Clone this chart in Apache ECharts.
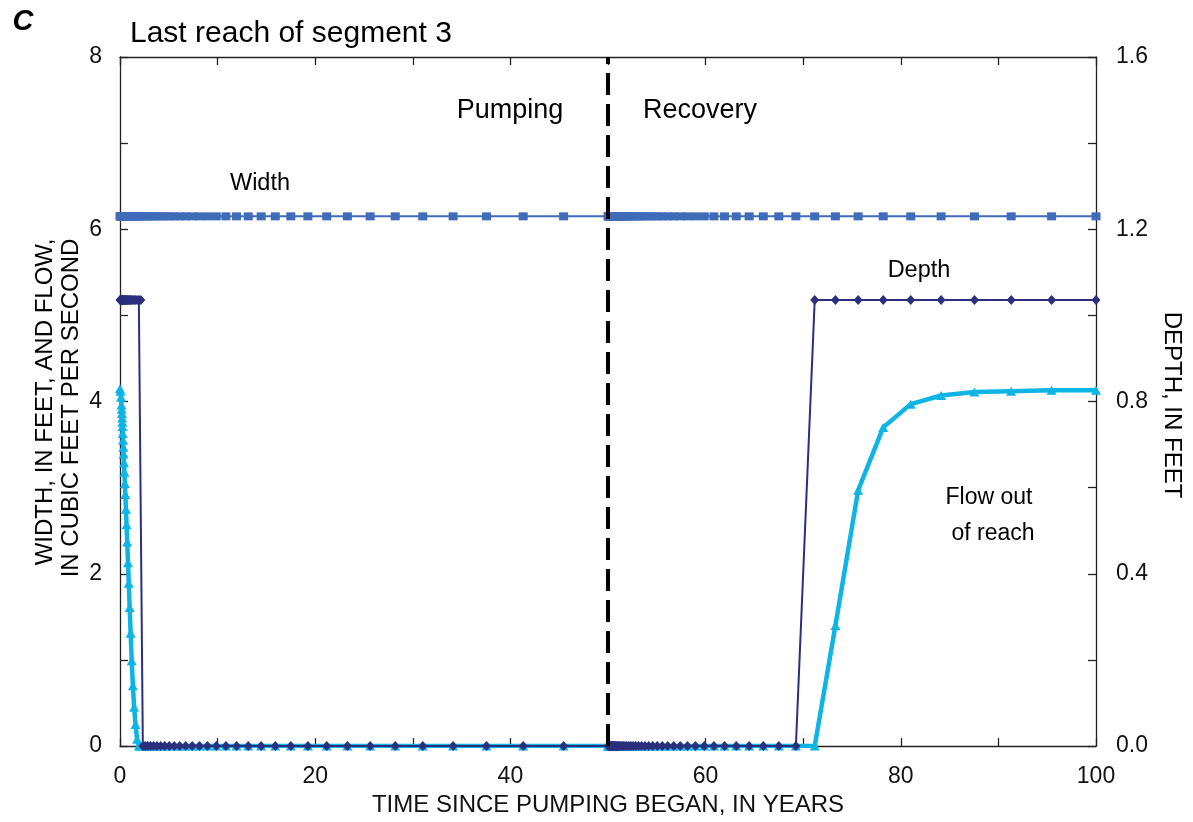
<!DOCTYPE html>
<html>
<head>
<meta charset="utf-8">
<script src="https://cdn.jsdelivr.net/npm/echarts@6/dist/echarts.min.js"></script>
<style>
html,body{margin:0;padding:0;background:#fff;}
#chart{width:1193px;height:822px;}
</style>
</head>
<body>
<div id="chart"></div>
<script>
// Time steps (years) — pumping period
const pumpTimes = [0, 0.05, 0.10, 0.15, 0.17, 0.19, 0.21, 0.23, 0.25, 0.28, 0.31, 0.34, 0.37, 0.41, 0.45, 0.50,
  0.55, 0.61, 0.67, 0.74, 0.82, 0.90, 0.99, 1.09, 1.20, 1.32, 1.45, 1.59, 1.75, 1.93, 2.13, 2.34,
  2.58, 2.84, 3.13, 3.44, 3.79, 4.17, 4.59, 5.05, 5.56, 6.12, 6.73, 7.40, 8.14, 8.96, 9.86, 10.85,
  11.94, 13.14, 14.46, 15.91, 17.50, 19.25, 21.18, 23.30, 25.63, 28.20, 31.02, 34.13, 37.55, 41.31, 45.45, 50.00];
// Time steps (years) — recovery period
const recoveryTimes = [50.05, 50.10, 50.15, 50.17, 50.19, 50.21, 50.23, 50.25, 50.28, 50.31, 50.34, 50.37, 50.41, 50.45, 50.50,
  50.55, 50.61, 50.67, 50.74, 50.82, 50.90, 50.99, 51.09, 51.20, 51.32, 51.45, 51.59, 51.75, 51.93, 52.13, 52.34,
  52.58, 52.84, 53.13, 53.44, 53.79, 54.17, 54.59, 55.05, 55.56, 56.12, 56.73, 57.40, 58.14, 58.96, 59.86, 60.85,
  61.94, 63.14, 64.46, 65.91, 67.50, 69.25, 71.18, 73.30, 75.63, 78.20, 81.02, 84.13, 87.55, 91.31, 95.45, 100.00];

// Width, in feet (left axis)
const widthPump = [6.15, 6.15, 6.15, 6.15, 6.15, 6.15, 6.15, 6.15, 6.15, 6.15, 6.15, 6.15, 6.15, 6.15, 6.15, 6.15,
  6.15, 6.15, 6.15, 6.15, 6.15, 6.15, 6.15, 6.15, 6.15, 6.15, 6.15, 6.15, 6.15, 6.15, 6.15, 6.15,
  6.15, 6.15, 6.15, 6.15, 6.15, 6.15, 6.15, 6.15, 6.15, 6.15, 6.15, 6.15, 6.15, 6.15, 6.15, 6.15,
  6.15, 6.15, 6.15, 6.15, 6.15, 6.15, 6.15, 6.15, 6.15, 6.15, 6.15, 6.15, 6.15, 6.15, 6.15, 6.15];
const widthRecovery = [6.15, 6.15, 6.15, 6.15, 6.15, 6.15, 6.15, 6.15, 6.15, 6.15, 6.15, 6.15, 6.15, 6.15, 6.15,
  6.15, 6.15, 6.15, 6.15, 6.15, 6.15, 6.15, 6.15, 6.15, 6.15, 6.15, 6.15, 6.15, 6.15, 6.15, 6.15,
  6.15, 6.15, 6.15, 6.15, 6.15, 6.15, 6.15, 6.15, 6.15, 6.15, 6.15, 6.15, 6.15, 6.15, 6.15, 6.15,
  6.15, 6.15, 6.15, 6.15, 6.15, 6.15, 6.15, 6.15, 6.15, 6.15, 6.15, 6.15, 6.15, 6.15, 6.15, 6.15];

// Depth, in feet (right axis)
const depthPump = [1.036, 1.036, 1.036, 1.036, 1.036, 1.036, 1.036, 1.036, 1.036, 1.036, 1.036, 1.036, 1.036, 1.036, 1.036, 1.036,
  1.036, 1.036, 1.036, 1.036, 1.036, 1.036, 1.036, 1.036, 1.036, 1.036, 1.036, 1.036, 1.036, 1.036, 1.036, 0,
  0, 0, 0, 0, 0, 0, 0, 0, 0, 0, 0, 0, 0, 0, 0, 0,
  0, 0, 0, 0, 0, 0, 0, 0, 0, 0, 0, 0, 0, 0, 0, 0];
const depthRecovery = [0, 0, 0, 0, 0, 0, 0, 0, 0, 0, 0, 0, 0, 0, 0,
  0, 0, 0, 0, 0, 0, 0, 0, 0, 0, 0, 0, 0, 0, 0, 0,
  0, 0, 0, 0, 0, 0, 0, 0, 0, 0, 0, 0, 0, 0, 0, 0,
  0, 0, 0, 0, 0, 0, 1.036, 1.036, 1.036, 1.036, 1.036, 1.036, 1.036, 1.036, 1.036, 1.036];

// Flow out of reach, cubic feet per second (left axis)
const flowPump = [4.15, 4.12, 4.05, 3.96, 3.91, 3.86, 3.81, 3.76, 3.71, 3.63, 3.55, 3.47, 3.39, 3.29, 3.18, 3.05,
  2.92, 2.75, 2.57, 2.37, 2.13, 1.89, 1.61, 1.31, 0.99, 0.70, 0.45, 0.25, 0.08, 0, 0, 0,
  0, 0, 0, 0, 0, 0, 0, 0, 0, 0, 0, 0, 0, 0, 0, 0,
  0, 0, 0, 0, 0, 0, 0, 0, 0, 0, 0, 0, 0, 0, 0, 0];
const flowRecovery = [0, 0, 0, 0, 0, 0, 0, 0, 0, 0, 0, 0, 0, 0, 0,
  0, 0, 0, 0, 0, 0, 0, 0, 0, 0, 0, 0, 0, 0, 0, 0,
  0, 0, 0, 0, 0, 0, 0, 0, 0, 0, 0, 0, 0, 0, 0, 0,
  0, 0, 0, 0, 0, 0, 0, 1.40, 2.97, 3.70, 3.97, 4.07, 4.11, 4.12, 4.13, 4.13];

const xTickLabels = [0, 20, 40, 60, 80, 100];
const leftTickLabels = [0, 2, 4, 6, 8];
const rightTickLabels = ['0.0', '0.4', '0.8', '1.2', '1.6'];
const periodMarkerYear = 50;

const times = pumpTimes.concat(recoveryTimes);
const pairs = (vals) => times.map((t, i) => [t, vals[i]]);
const widthData = pairs(widthPump.concat(widthRecovery));
const depthData = pairs(depthPump.concat(depthRecovery));
const flowData = pairs(flowPump.concat(flowRecovery));

const FONT = '"Liberation Sans", Arial, Helvetica, sans-serif';
const AX = '#222';
const axisLine = {show: true, onZero: false, lineStyle: {color: AX, width: 1.3}};
const axisTick = {show: true, inside: true, length: 8, lineStyle: {color: AX, width: 1.3}};

const chart = echarts.init(document.getElementById('chart'), null, {renderer: 'canvas'});
const option = {
  backgroundColor: '#fff',
  animation: false,
  textStyle: {fontFamily: FONT},
  grid: {left: 120, right: 97, top: 57, bottom: 72, containLabel: false},
  xAxis: [{
    type: 'value', min: 0, max: 100, interval: 10, position: 'bottom',
    axisLine: axisLine, axisTick: axisTick,
    axisLabel: {fontSize: 23, color: '#111', fontFamily: FONT, margin: 19,
      formatter: v => xTickLabels.indexOf(Math.round(v)) >= 0 ? String(Math.round(v)) : ''},
    splitLine: {show: false},
    name: 'TIME SINCE PUMPING BEGAN, IN YEARS', nameLocation: 'middle', nameGap: 41,
    nameTextStyle: {fontSize: 24, color: '#111', fontFamily: FONT}
  }, {
    type: 'value', min: 0, max: 100, interval: 10, position: 'top',
    axisLine: axisLine, axisTick: axisTick,
    axisLabel: {show: false},
    splitLine: {show: false}
  }],
  yAxis: [{
    type: 'value', min: 0, max: 8, interval: 1, position: 'left',
    axisLine: axisLine, axisTick: axisTick,
    axisLabel: {fontSize: 23, color: '#111', fontFamily: FONT, margin: 18,
      formatter: v => leftTickLabels.indexOf(Math.round(v)) >= 0 ? String(Math.round(v)) : ''},
    splitLine: {show: false}
  }, {
    type: 'value', min: 0, max: 1.6, interval: 0.2, position: 'right',
    axisLine: axisLine, axisTick: axisTick,
    axisLabel: {fontSize: 23, color: '#111', fontFamily: FONT, margin: 20,
      formatter: v => { const s = v.toFixed(1); return rightTickLabels.indexOf(s) >= 0 ? s : ''; }},
    splitLine: {show: false}
  }],
  series: [{
    name: 'Flow out of reach', type: 'line', xAxisIndex: 0, yAxisIndex: 0,
    data: flowData, symbol: 'triangle', symbolSize: [10, 9], showAllSymbol: true,
    lineStyle: {color: '#0db4e4', width: 4.5}, itemStyle: {color: '#0db4e4'},
    markLine: {
      silent: true, symbol: 'none', label: {show: false},
      lineStyle: {color: '#000', width: 4, type: [22, 9]},
      data: [{xAxis: periodMarkerYear}]
    },
    z: 2
  }, {
    name: 'Depth', type: 'line', xAxisIndex: 0, yAxisIndex: 1,
    data: depthData, symbol: 'diamond', symbolSize: [9, 10], showAllSymbol: true,
    lineStyle: {color: '#2b2f7e', width: 2}, itemStyle: {color: '#2b2f7e'},
    z: 3
  }, {
    name: 'Width', type: 'line', xAxisIndex: 0, yAxisIndex: 0,
    data: widthData, symbol: 'rect', symbolSize: [9, 8], showAllSymbol: true,
    lineStyle: {color: '#3f6cb9', width: 2}, itemStyle: {color: '#3f6cb9'},
    z: 4
  }],
  graphic: [
    {type: 'text', x: 23, y: 22, style: {text: 'C', font: 'italic bold 29px ' + FONT, fill: '#000', textAlign: 'center', textVerticalAlign: 'middle'}},
    {type: 'text', x: 130, y: 34, style: {text: 'Last reach of segment 3', font: '30px ' + FONT, fill: '#000', textAlign: 'left', textVerticalAlign: 'middle'}},
    {type: 'text', x: 510, y: 111, style: {text: 'Pumping', font: '27px ' + FONT, fill: '#000', textAlign: 'center', textVerticalAlign: 'middle'}},
    {type: 'text', x: 700, y: 111, style: {text: 'Recovery', font: '27px ' + FONT, fill: '#000', textAlign: 'center', textVerticalAlign: 'middle'}},
    {type: 'text', x: 260, y: 184, style: {text: 'Width', font: '23.5px ' + FONT, fill: '#000', textAlign: 'center', textVerticalAlign: 'middle'}},
    {type: 'text', x: 919, y: 271, style: {text: 'Depth', font: '23.5px ' + FONT, fill: '#000', textAlign: 'center', textVerticalAlign: 'middle'}},
    {type: 'text', x: 989, y: 498, style: {text: 'Flow out', font: '23px ' + FONT, fill: '#000', textAlign: 'center', textVerticalAlign: 'middle'}},
    {type: 'text', x: 993, y: 534, style: {text: 'of reach', font: '23px ' + FONT, fill: '#000', textAlign: 'center', textVerticalAlign: 'middle'}},
    {type: 'text', x: 45, y: 402, rotation: Math.PI / 2, style: {text: 'WIDTH, IN FEET, AND FLOW,', font: '24px ' + FONT, fill: '#000', textAlign: 'center', textVerticalAlign: 'middle'}},
    {type: 'text', x: 71, y: 408, rotation: Math.PI / 2, style: {text: 'IN CUBIC FEET PER SECOND', font: '24px ' + FONT, fill: '#000', textAlign: 'center', textVerticalAlign: 'middle'}},
    {type: 'text', x: 1172, y: 405, rotation: -Math.PI / 2, style: {text: 'DEPTH, IN FEET', font: '24px ' + FONT, fill: '#000', textAlign: 'center', textVerticalAlign: 'middle'}}
  ]
};
chart.setOption(option);
</script>
</body>
</html>
